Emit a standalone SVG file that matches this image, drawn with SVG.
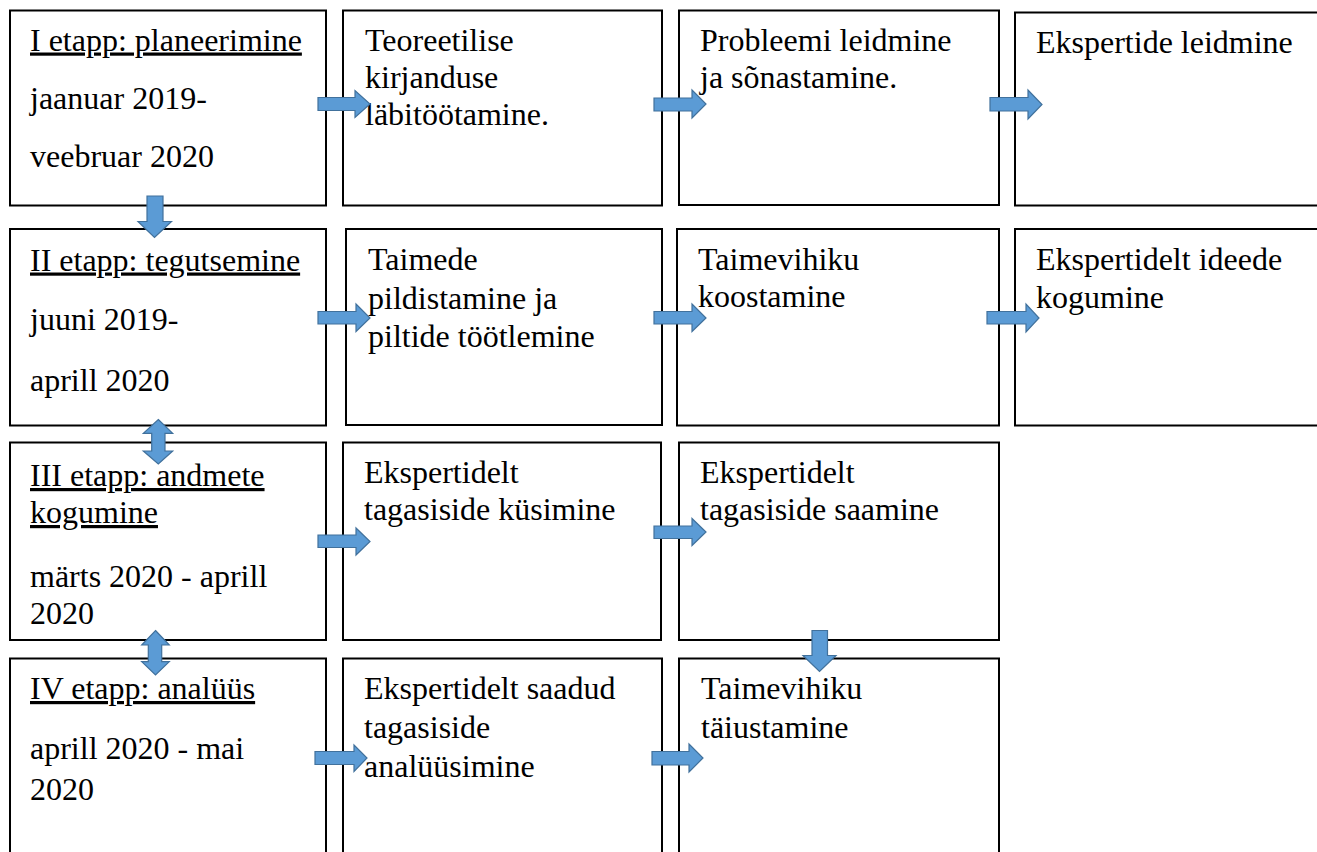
<svg xmlns="http://www.w3.org/2000/svg" width="1317" height="852" viewBox="0 0 1317 852">
<style>
.box{fill:#fff;stroke:#000;stroke-width:2}
.t{font-family:'Liberation Serif','Times New Roman',Tinos,'DejaVu Serif',serif;font-size:32px;fill:#000}
.u{text-decoration:underline}
.arr{fill:#5B9BD5;stroke:#41719C;stroke-width:1.2;stroke-linejoin:miter}
</style>
<rect width="1317" height="852" fill="#fff"/>
<g id="n1"><rect class="box" x="10" y="10.5" width="316" height="195"/>
<text class="t" font-family="Liberation Serif, serif"><tspan class="u" x="30" y="50.5">I etapp: planeerimine</tspan><tspan x="30" y="108.5">jaanuar 2019-</tspan><tspan x="30" y="166.5">veebruar 2020</tspan></text></g>
<g id="n2"><rect class="box" x="343" y="10.5" width="319" height="195"/>
<text class="t"><tspan x="365" y="50.5">Teoreetilise</tspan><tspan x="365" y="87.5">kirjanduse</tspan><tspan x="365" y="124.5">läbitöötamine.</tspan></text></g>
<g id="n3"><rect class="box" x="679" y="10.5" width="320" height="194.5"/>
<text class="t"><tspan x="700" y="50.5">Probleemi leidmine</tspan><tspan x="700" y="88">ja sõnastamine.</tspan></text></g>
<g id="n4"><rect class="box" x="1015" y="12.5" width="310" height="193"/>
<text class="t"><tspan x="1036" y="52.5">Ekspertide leidmine</tspan></text></g>

<g id="n5"><rect class="box" x="10" y="229" width="316" height="196.5"/>
<text class="t"><tspan class="u" x="30" y="270.5">II etapp: tegutsemine</tspan><tspan x="30" y="330">juuni 2019-</tspan><tspan x="30" y="390.5">aprill 2020</tspan></text></g>
<g id="n6"><rect class="box" x="346" y="229" width="316" height="196"/>
<text class="t"><tspan x="368" y="269.5">Taimede</tspan><tspan x="368" y="308.5">pildistamine ja</tspan><tspan x="368" y="346.5">piltide töötlemine</tspan></text></g>
<g id="n7"><rect class="box" x="677" y="229" width="322" height="196.5"/>
<text class="t"><tspan x="698" y="269.5">Taimevihiku</tspan><tspan x="698" y="306.5">koostamine</tspan></text></g>
<g id="n8"><rect class="box" x="1015" y="229" width="310" height="196.5"/>
<text class="t"><tspan x="1036" y="269.5">Ekspertidelt ideede</tspan><tspan x="1036" y="308">kogumine</tspan></text></g>

<g id="n9"><rect class="box" x="10" y="442.5" width="316" height="197.5"/>
<text class="t"><tspan class="u" x="30" y="486">III etapp: andmete</tspan><tspan class="u" x="30" y="523">kogumine</tspan><tspan x="30" y="587">märts 2020 - aprill</tspan><tspan x="30" y="624">2020</tspan></text></g>
<g id="n10"><rect class="box" x="343" y="442.5" width="318" height="197.5"/>
<text class="t"><tspan x="364" y="482.5">Ekspertidelt</tspan><tspan x="364" y="520">tagasiside küsimine</tspan></text></g>
<g id="n11"><rect class="box" x="679" y="442.5" width="320" height="197.5"/>
<text class="t"><tspan x="700" y="482.5">Ekspertidelt</tspan><tspan x="700" y="520">tagasiside saamine</tspan></text></g>

<g id="n12"><rect class="box" x="10" y="658.5" width="316" height="210"/>
<text class="t"><tspan class="u" x="30" y="699">IV etapp: analüüs</tspan><tspan x="30" y="759">aprill 2020 - mai</tspan><tspan x="30" y="800">2020</tspan></text></g>
<g id="n13"><rect class="box" x="343" y="658.5" width="319" height="210"/>
<text class="t"><tspan x="364" y="699">Ekspertidelt saadud</tspan><tspan x="364" y="738">tagasiside</tspan><tspan x="364" y="776.5">analüüsimine</tspan></text></g>
<g id="n14"><rect class="box" x="679" y="658.5" width="320" height="210"/>
<text class="t"><tspan x="701" y="699">Taimevihiku</tspan><tspan x="701" y="738">täiustamine</tspan></text></g>

<g id="connectors">
<polygon class="arr" points="318,97.5 355,97.5 355,90.5 370,104 355,117.5 355,110.5 318,110.5"/>
<polygon class="arr" points="654,98 692,98 692,90 706,104 692,118 692,111 654,111"/>
<polygon class="arr" points="990,97.5 1028,97.5 1028,90 1042,104.5 1028,119 1028,111 990,111"/>
<polygon class="arr" points="318,311.5 356,311.5 356,304 370,318 356,331.5 356,324 318,324"/>
<polygon class="arr" points="654,311.5 692,311.5 692,304 706,318 692,331.5 692,324 654,324"/>
<polygon class="arr" points="987,311.5 1026,311.5 1026,304 1039,318 1026,332 1026,324 987,324"/>
<polygon class="arr" points="318,535 356,535 356,528 370,541.5 356,555 356,547.5 318,547.5"/>
<polygon class="arr" points="654,526 692,526 692,518.5 706,532 692,545.5 692,538.5 654,538.5"/>
<polygon class="arr" points="315,751.5 354,751.5 354,745 367,758 354,771.5 354,764.5 315,764.5"/>
<polygon class="arr" points="652,751.5 689,751.5 689,744 703,758 689,772 689,765 652,765"/>
<polygon class="arr" points="147,196 163,196 163,221.5 171.5,221.5 154.5,237.5 138,221.5 147,221.5"/>
<polygon class="arr" points="812,630.5 827.5,630.5 827.5,655.5 836,655.5 819.5,671.5 803,655.5 812,655.5"/>
<polygon class="arr" points="158.3,419.5 172.7,433.3 165,433.3 165,451 172.7,451 158.3,464 143.3,451 151.7,451 151.7,433.3 143.3,433.3"/>
<polygon class="arr" points="155.5,630.5 169.3,645 161.7,645 161.7,661.7 169.3,661.7 155.5,675 141.7,661.7 148.3,661.7 148.3,645 141.7,645"/>
</g>
</svg>
